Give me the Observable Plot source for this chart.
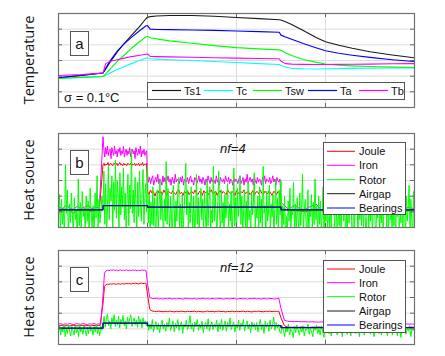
<!DOCTYPE html>
<html><head><meta charset="utf-8">
<script src="https://cdn.jsdelivr.net/npm/d3@7"></script>
<script src="https://cdn.jsdelivr.net/npm/@observablehq/plot@0.6"></script>
<style>
body{margin:0;background:#fff;}
#wrap{position:relative;width:445px;height:356px;overflow:hidden;font-family:"Liberation Sans",Arial,sans-serif;}
#wrap > svg{position:absolute;left:0;}
</style></head><body><div id="wrap"></div>
<script>
// ---------- axes ----------
const xTicks = [1, 2, 3];
const yTicks = [1, 2, 3, 4, 5];
const phases = [0, 0.5, 1.0, 2.5, 4.0];   // load-change instants (time units)

// ---------- panel a : temperatures ----------
const tA = [0, 0.25, 0.5, 0.53, 0.58, 0.66, 0.74, 0.82, 0.9, 0.98, 1.0, 1.03, 1.1, 1.25, 1.5, 1.75, 2.0, 2.25, 2.48, 2.5, 2.55, 2.62, 2.75, 2.9, 3.0, 3.15, 3.3, 3.5, 3.75, 4.0];
const tempNames = ["Ts1", "Tc", "Tsw", "Ta", "Tb"];
const tempColors = ["#1a1a1a", "#00ffff", "#00ff00", "#0000ff", "#ff00ff"];
const Ts1 = [1.9, 2.05, 2.2, 2.45, 2.9, 3.55, 4.1, 4.6, 5.1, 5.65, 5.76, 5.8, 5.84, 5.87, 5.87, 5.82, 5.74, 5.67, 5.6, 5.58, 5.48, 5.3, 4.92, 4.45, 4.2, 3.97, 3.78, 3.56, 3.35, 3.17];
const Tc  = [1.87, 1.92, 1.98, 2.06, 2.2, 2.42, 2.62, 2.8, 2.98, 3.14, 3.17, 3.11, 3.09, 3.05, 3.0, 2.94, 2.87, 2.8, 2.74, 2.68, 2.58, 2.5, 2.47, 2.46, 2.47, 2.48, 2.5, 2.51, 2.52, 2.53];
const Tsw = [1.85, 1.92, 1.98, 2.15, 2.45, 2.95, 3.35, 3.78, 4.15, 4.5, 4.55, 4.45, 4.38, 4.25, 4.1, 3.95, 3.82, 3.74, 3.68, 3.65, 3.5, 3.32, 3.06, 2.88, 2.78, 2.7, 2.66, 2.62, 2.58, 2.55];
const Ta  = [1.9, 2.04, 2.2, 2.5, 2.98, 3.6, 4.08, 4.48, 4.85, 5.2, 5.23, 5.0, 4.98, 4.97, 4.95, 4.92, 4.88, 4.84, 4.8, 4.62, 4.5, 4.35, 4.08, 3.8, 3.62, 3.46, 3.34, 3.2, 3.05, 2.93];
const Tb  = [2.04, 2.1, 2.2, 2.8, 2.95, 3.05, 3.15, 3.25, 3.32, 3.4, 3.42, 3.26, 3.25, 3.23, 3.21, 3.18, 3.15, 3.13, 3.11, 2.95, 2.8, 2.77, 2.75, 2.74, 2.74, 2.75, 2.76, 2.77, 2.79, 2.8];

// ---------- heat sources : one sub-array per load phase ----------
const srcNames = ["Joule", "Iron", "Rotor", "Airgap", "Bearings"];
const srcColors = ["#ff0000", "#ff00ff", "#00ff00", "#1a1a1a", "#0000ff"];

// panel b (nf = 4)
const jouleB = [
  [1.1, 1.0, 1.2, 1.1, 0.9, 1.15, 1.05, 1.2, 1.1, 1.0, 1.15, 1.1],
  [4.0, 4.1, 3.95, 4.05, 4.0, 4.15, 3.95, 4.05, 4.1, 4.0, 3.95, 4.1, 4.05, 4.0, 4.1, 3.95, 4.05, 4.15, 4.0, 4.05, 3.95, 4.1, 4.0, 4.05, 3.95, 4.1, 4.05, 4.0, 4.1, 3.95, 4.05, 4.0, 4.1, 3.95, 4.05, 4.0, 4.1, 3.95, 4.05, 4.0, 4.15, 3.95, 4.05, 4.0, 4.1],
  [2.3, 2.1, 2.4, 2.2, 2.3, 2.0, 2.25, 2.35, 2.15, 2.3, 2.1, 2.4, 2.2, 2.05, 2.3, 2.25, 2.15, 2.35, 2.2, 2.1, 2.3, 2.4, 2.15, 2.25, 2.05, 2.3, 2.2, 2.35, 2.1, 2.25, 2.3, 2.15, 2.4, 2.2, 2.1, 2.3, 2.25, 2.05, 2.35, 2.2, 2.3, 2.1, 2.25, 2.4, 2.15, 2.2, 2.3, 2.05, 2.25, 2.35, 2.15, 2.3, 2.2, 2.1, 2.4, 2.25, 2.15, 2.3, 2.2, 2.05, 2.35, 2.25, 2.1, 2.3, 2.2, 2.4, 2.15, 2.25, 2.3, 2.1, 2.2, 2.35, 2.05, 2.25, 2.3, 2.15, 2.4, 2.2, 2.1, 2.3, 2.25, 2.15, 2.35, 2.2, 2.05, 2.3, 2.25, 2.1, 2.3, 2.2],
  [1.2, 1.1, 1.0, 1.15, 1.1, 0.95, 1.1, 1.2, 1.05, 1.1, 1.0, 1.15]
];
const ironB = [
  [1.3, 1.2, 1.4, 1.25, 1.15, 1.35, 1.2, 1.3, 1.4, 1.2, 1.3, 1.25],
  [5.8, 5.0, 4.5, 5.1, 4.7, 5.2, 4.6, 4.9, 5.0, 4.4, 5.1, 4.8, 4.6, 5.2, 4.7, 4.9, 4.5, 5.0, 4.8, 5.1, 4.6, 4.9, 4.7, 5.2, 4.5, 4.8, 5.0, 4.6, 4.9, 4.7, 5.1, 4.5, 4.8, 5.0, 4.7, 4.9, 4.4, 5.1, 4.8, 4.6, 5.0, 4.7, 5.2, 4.5, 4.9, 4.7, 5.0, 4.6, 4.8, 4.9],
  [3.4, 2.9, 3.2, 2.8, 3.1, 3.3, 2.7, 3.0, 3.2, 2.9, 3.4, 2.8, 3.1, 3.0, 2.7, 3.3, 2.9, 3.2, 2.8, 3.0,
   3.3, 2.9, 3.1, 2.7, 3.2, 3.0, 2.8, 3.4, 2.9, 3.1, 3.0, 2.8, 3.2, 2.9, 3.3, 2.7, 3.1, 3.0, 2.9, 3.2,
   2.8, 3.1, 3.3, 2.9, 3.0, 2.7, 3.2, 3.1, 2.8, 3.0, 3.3, 2.9, 3.1, 2.8, 3.2, 3.0, 2.7, 3.1, 2.9, 3.3,
   3.0, 2.8, 3.2, 2.9, 3.1, 3.0, 2.8, 3.3, 2.9, 3.1, 2.7, 3.2, 3.0, 2.9, 3.1, 2.8, 3.3, 3.0, 2.9, 3.2,
   2.8, 3.1, 3.0, 2.7, 3.2, 2.9, 3.1, 3.0, 2.8, 3.1, 3.3, 2.8, 3.0, 3.2, 2.7, 3.1, 2.9, 3.4, 2.8, 3.0,
   3.2, 2.9, 3.1, 2.7, 3.3, 3.0, 2.8, 3.2, 2.9, 3.1, 3.0, 2.7, 3.2, 2.9, 3.3, 2.8, 3.1, 3.0, 2.9, 3.2,
   2.8, 3.0, 3.3, 2.9, 3.1, 2.7, 3.2, 3.0, 2.9, 3.1],
  [1.6, 1.2, 1.4, 1.1, 1.3, 1.5, 1.0, 1.3, 1.2, 1.4, 1.1, 1.3, 1.2, 1.5, 1.1, 1.2, 1.4, 1.0, 1.3, 1.2]
];
const rotorB = [
  [0.6, 2.1, -0.4, 1.8, 0.2, 1.3, -0.7, 4.0, 0.9, 2.4, -0.6, 1.5, 0.3, 2.2, 0.8, -0.3, 1.9, 0.5, 1.1, -0.8, 3.1, 0.1, 1.6, -0.5, 2.3, 0.7, 1.2, -0.2, 2.0, 0.4, 1.7, -0.7, 2.5, 1.0, 0.0, 1.4, -0.4, 2.2, 0.6, 3.3, -0.1, 1.8, 0.3, 1.1, 2.0],
  [1.4, 3.6, 0.2, 2.8, -0.4, 1.0, 3.9, 0.5, 2.5, 1.7, 3.3, -0.2, 2.9, 1.1, 4.3, 0.6, 3.0, 1.9, 0.0, 3.5, 0.8, 2.6, 1.3, 3.8, 0.5, 2.2, -0.3, 1.6, 3.4, 0.1, 2.7, 1.2, 5.0, 0.9, 2.4, 0.3, 3.2, 1.5, -0.1, 2.9, 0.7, 3.6, 1.8, 0.4, 2.3, 3.7, 0.2, 1.9, 2.8, 1.0],
  [3.9, 0.3, 2.1, -0.5, 1.6, 0.2, 2.6, 0.1, 1.9, -0.7, 0.7, 2.4, -0.4, 1.4, 3.0,
   0.5, 2.2, 0.9, -0.6, 1.8, 0.4, 4.2, 0.2, 2.5, 1.1, -0.2, 2.0, 0.6, -0.8, 2.7,
   1.3, -0.7, 1.7, 0.4, 2.3, 3.2, 0.0, 1.5, -0.3, 2.1, -0.3, 1.0, 2.2, 4.1, 0.8,
   2.4, -0.5, 1.6, 0.3, 2.6, 1.2, -0.1, 2.0, -0.6, 0.7, 3.4, 0.2, 1.9, -0.6, 1.4,
   2.5, 0.5, 1.8, -0.2, 2.2, 0.9, -0.7, 3.0, 0.1, 1.7, 2.6, -0.4, 1.1, 0.3, 3.9,
   0.4, 2.3, 0.8, -0.3, 1.5, 3.6, 1.0, -0.5, 2.4, 0.3, 1.6, -0.5, 2.1, 0.6, 1.3,
   2.8, -0.2, 1.5, 0.4, 2.3, -0.8, 1.0, 3.8, 0.1, 1.9, -0.4, 2.5, 0.7, 1.4, 3.3,
   0.2, 2.0, -0.6, 1.2, 2.4, 0.0, 1.7, -0.3, 2.9, 0.5, 1.1, -0.7, 2.2, 0.8, 1.6,
   3.5, -0.1, 1.3, 0.6, 2.0, -0.5, 2.6, 0.3, 1.8, -0.2, 3.9, 0.9, 1.4, -0.6, 2.3,
   0.4, 1.0, 2.7, -0.4, 1.5, 0.7, 2.1, -0.8, 1.2, 3.1, 0.2, 1.9, -0.3, 2.4, 0.8],
  [3.0, -0.5, 1.4, 0.2, 2.0, -0.8, 0.7, -0.6, 1.7, 0.4, 2.5, -0.2, 1.2, 0.8, 2.9,
   0.0, 1.5, -0.7, 1.9, 0.6, -0.4, 2.2, 0.1, 1.3, 3.4, -0.3, 1.0, 1.8, 0.3, -0.8,
   2.4, -0.4, 1.1, 0.7, 2.1, -0.1, 1.6, 0.2, 3.1, 0.5, 1.4, -0.6, 2.0, 0.2, 1.7,
   -0.5, 0.9, 2.6, -0.5, 1.2, 0.4, 1.9, -0.7, 3.3, 0.0, 1.5, -0.2, 2.3, 0.8, 1.1,
   -0.4, 2.8, 0.6, -0.8, 1.6, 0.1, 2.1, -0.3, 1.3, 3.5, 0.4, 1.8, -0.6, 0.9, -0.5,
   2.4, 0.3, 1.4, 2.7, 0.0, -0.7, 1.7, -0.2, 2.2, 0.8, 1.2, -0.6, 2.6, 0.5, 1.5,
   0.1, 3.0, -0.3, 1.9, 0.7, -0.8, 1.1, 2.3, -0.1, 1.6, 0.4, 2.0, -0.5, 1.3, 2.5,
   0.2, -0.4, 1.8, 0.6, 2.9, -0.2, 1.0, 0.3, 2.2, -0.7, 1.4, 0.8, 3.2, 0.0, 1.7,
   -0.5, 2.1, 0.5, 1.2, -0.3, 2.6, 0.1, 1.5, -0.8, 1.9, 0.7, 2.4, -0.4, 1.0, 0.3,
   3.3, -0.1, 1.6, 0.9, -0.6, 2.0, 0.4, 1.3, 2.7, -0.2, 1.8, 0.6, -0.7, 2.3, 1.1]
];
const airgapB = [1.13, 1.40, 1.30, 1.13];
const bearingsB = [1.13, 1.40, 1.30, 1.13];

// panel c (nf = 12)
const jouleC = [
  [1.2, 1.22, 1.18, 1.21, 1.19, 1.23, 1.2, 1.18, 1.22, 1.2, 1.21, 1.19, 1.22, 1.2, 1.21],
  [2.6, 3.7, 3.82, 3.85, 3.84, 3.87, 3.85, 3.88, 3.86, 3.84, 3.88, 3.87, 3.85, 3.89, 3.86, 3.88, 3.9, 3.87, 3.89, 3.86, 3.9, 3.88, 3.91, 3.89, 3.87, 3.9, 3.92, 3.89, 3.91, 3.9],
  [3.2, 2.25, 2.14, 2.12, 2.1, 2.13, 2.11, 2.09, 2.12, 2.1, 2.13, 2.11, 2.08, 2.12, 2.1, 2.13, 2.11, 2.09, 2.12, 2.1, 2.11, 2.13, 2.09, 2.12, 2.1, 2.08, 2.11, 2.13, 2.1, 2.12, 2.09, 2.11, 2.13, 2.1, 2.12, 2.08, 2.11, 2.1, 2.13, 2.09, 2.12, 2.1, 2.11, 2.13, 2.09, 2.12, 2.1, 2.08, 2.12, 2.11, 2.13, 2.1, 2.09, 2.12, 2.11, 2.13, 2.1, 2.12, 2.11, 2.13],
  [1.7, 1.2, 1.12, 1.1, 1.11, 1.09, 1.12, 1.1, 1.08, 1.11, 1.1, 1.12, 1.09, 1.1, 1.11, 1.08, 1.1, 1.12, 1.09, 1.11, 1.1, 1.08, 1.11, 1.1, 1.12, 1.09, 1.1, 1.11, 1.08, 1.1, 1.12, 1.09, 1.11, 1.1, 1.08, 1.11, 1.1, 1.09, 1.11, 1.1]
];
const ironC = [
  [1.3, 1.33, 1.28, 1.32, 1.29, 1.34, 1.3, 1.27, 1.33, 1.31, 1.29, 1.34, 1.3, 1.28, 1.32, 1.3, 1.33, 1.29, 1.31, 1.3],
  [3.1, 4.55, 4.7, 4.74, 4.72, 4.76, 4.73, 4.77, 4.72, 4.75, 4.7, 4.74, 4.76, 4.72, 4.75, 4.73, 4.77, 4.71, 4.74, 4.72, 4.76, 4.73, 4.75, 4.7, 4.74, 4.72, 4.76, 4.73, 4.75, 4.72],
  [3.9, 3.0, 2.94, 2.92, 2.95, 2.91, 2.93, 2.9, 2.94, 2.92, 2.95, 2.9, 2.93, 2.91, 2.94, 2.92, 2.9, 2.95, 2.92, 2.93, 2.91, 2.94, 2.9, 2.93, 2.92, 2.95, 2.91, 2.93, 2.9, 2.94, 2.92, 2.91, 2.95, 2.93, 2.9, 2.92, 2.94, 2.91, 2.93, 2.95, 2.9, 2.92, 2.94, 2.91, 2.93, 2.9, 2.94, 2.92, 2.95, 2.91, 2.93, 2.9, 2.94, 2.92, 2.91, 2.95, 2.93, 2.9, 2.92, 2.96],
  [2.3, 1.55, 1.48, 1.47, 1.46, 1.47, 1.45, 1.46, 1.44, 1.45, 1.44, 1.43, 1.44, 1.42, 1.43, 1.41, 1.42, 1.4, 1.41, 1.39, 1.4, 1.38, 1.39, 1.37, 1.38, 1.36, 1.37, 1.35, 1.36, 1.34, 1.35, 1.33, 1.34, 1.32, 1.33, 1.31, 1.32, 1.3, 1.31, 1.3]
];
const rotorC = [
  [0.9, 1.2, 0.6, 1.1, 0.8, 1.3, 0.5, 1.0, 0.7, 1.25, 0.85, 0.55, 1.15, 0.9, 0.6, 1.2, 0.75, 1.05, 0.5, 1.3, 0.8, 1.0, 0.65, 1.2, 0.9, 0.55, 1.1, 0.7, 1.25, 0.85, 1.0, 0.6, 1.15, 0.8, 1.3, 0.7, 1.05, 0.55, 1.2, 0.9],
  [1.3, 1.8, 1.1, 1.6, 1.95, 1.2, 1.5, 1.0, 1.7, 1.35, 1.9, 1.15, 1.55, 1.25, 1.8, 1.05, 1.6, 1.4, 1.85, 1.2, 1.5, 1.0, 1.75, 1.3, 1.65, 1.9, 1.15, 1.45, 1.7, 1.25, 1.55, 1.1, 1.8, 1.35, 1.6, 1.05, 1.7, 1.3, 1.5, 1.2],
  [1.5, 0.9, 1.3, 1.0, 1.6, 0.8, 1.2, 1.45, 0.95, 1.35, 0.75, 1.25, 1.55, 1.0, 1.3, 0.85, 1.4, 1.1, 1.7, 0.9, 1.2, 1.5, 0.8, 1.35, 1.05, 1.6, 0.9, 1.25, 1.45, 0.7, 1.3, 1.1, 1.55, 0.95, 1.2, 1.85, 1.0, 1.35, 0.8, 1.45, 1.15, 1.6, 0.9, 1.3, 1.05, 1.5, 0.75, 1.25, 1.4, 1.0, 1.65, 0.85, 1.2, 1.45, 0.95, 1.3, 1.1, 1.55, 0.8, 1.35, 1.0, 1.6, 0.9, 1.25, 1.5, 0.85, 1.4, 1.1, 1.7, 0.95, 1.2, 1.45, 0.8, 1.3, 1.05, 1.55, 0.9, 1.35, 1.15, 1.6, 0.85, 1.25, 1.5, 1.0, 1.3, 0.75, 1.45, 1.1, 1.35, 0.95,
   1.4, 0.8, 1.25, 1.6, 0.95, 1.3, 0.7, 1.5, 1.1, 1.35, 0.85, 1.55, 1.0, 1.2, 1.75, 0.9, 1.4, 1.05, 1.3, 0.8],
  [0.7, 1.2, 0.9, 0.5, 1.1, 0.8, 1.3, 0.6, 1.0, 0.85, 0.45, 1.15, 0.75, 1.25, 0.95, 0.6, 1.1, 0.8, 1.2, 0.55, 1.0, 0.9, 1.3, 0.65, 1.05, 0.8, 0.5, 1.15, 0.9, 1.25, 0.7, 1.0, 0.6, 1.2, 0.85, 0.45, 1.1, 0.95, 1.3, 0.7, 1.0, 0.55, 1.15, 0.8, 1.25, 0.9, 0.6, 1.05, 0.75, 1.2, 0.5, 1.0, 0.85, 1.3, 0.65, 1.1, 0.9, 0.55, 1.2, 0.8, 1.0, 0.7, 1.25, 0.95, 0.5, 1.15, 0.85, 1.05, 0.6, 1.2, 0.9, 0.75, 1.3, 0.65, 1.0, 0.85, 0.5, 1.1, 0.95, 1.2, 0.7, 1.05, 0.6, 1.15, 0.8, 1.25, 0.9, 0.55, 1.1, 0.85,
   1.2, 0.6, 1.0, 0.8, 1.3, 0.55, 1.1, 0.9, 0.45, 1.15, 0.75, 1.25, 0.65, 1.05, 0.85, 1.2, 0.5, 1.0, 0.9, 1.1]
];
const airgapC = [1.04, 1.36, 1.21, 1.08];
const bearingsC = [1.04, 1.36, 1.21, 1.08];

// ---------- text ----------
const yLabels = ["Temperature", "Heat source", "Heat source"];
const panelLetters = ["a", "b", "c"];
const sigmaNote = "\u03c3 = 0.1°C";
const nfNotes = ["nf=4", "nf=12"];

// ---------- helpers ----------
function phaseSeries(segs) {
  const out = [];
  segs.forEach((vals, k) => {
    const t0 = phases[k], t1 = phases[k + 1], last = k === segs.length - 1, n = vals.length;
    vals.forEach((v, j) => out.push({t: t0 + (t1 - t0) * j / (last ? n - 1 : n), v}));
  });
  return out;
}
function stepLevels(levels) {
  return phases.map((t, k) => ({t, v: levels[Math.min(k, levels.length - 1)]}));
}
const W = 445, ML = 58, MR = 31, MT = 13, MB = 3, H = 110;
const FW = W - ML - MR, FH = H - MT - MB;
function chrome() {
  return [
    Plot.ruleX(xTicks, {x: d => d, stroke: "#dcdcdc", strokeWidth: 1}),
    Plot.ruleY(yTicks, {y: d => d, stroke: "#dcdcdc", strokeWidth: 1})
  ];
}
function edges() {
  return [
    Plot.tickY(yTicks, {y: d => d, insetRight: FW - 4, stroke: "#666"}),
    Plot.tickY(yTicks, {y: d => d, insetLeft: FW - 4, stroke: "#666"}),
    Plot.tickX(xTicks, {x: d => d, insetBottom: FH - 4, stroke: "#666"}),
    Plot.tickX(xTicks, {x: d => d, insetTop: FH - 4, stroke: "#666"}),
    Plot.frame({stroke: "#707070", strokeWidth: 1.2})
  ];
}
function makePlot(lineMarks) {
  return Plot.plot({
    width: W, height: H, marginLeft: ML, marginRight: MR, marginTop: MT, marginBottom: MB,
    x: {domain: [0, 4], axis: null},
    y: {domain: [0, 6], axis: null},
    marks: [...chrome(), ...lineMarks, ...edges()]
  });
}

const wrap = document.getElementById("wrap");
// panel a
const tempSeries = [Ts1, Tc, Tsw, Ta, Tb];
const plotA = makePlot(tempSeries.map((vals, i) =>
  Plot.line(tA.map((t, j) => ({t, v: vals[j]})), {x: "t", y: "v", stroke: tempColors[i], strokeWidth: 1.1, clip: true})));
plotA.style.top = "0px";
wrap.appendChild(plotA);

function sourcePlot(joule, iron, rotor, airgap, bearings) {
  return makePlot([
    Plot.line(phaseSeries(joule), {x: "t", y: "v", stroke: srcColors[0], strokeWidth: 1, clip: true}),
    Plot.line(phaseSeries(iron), {x: "t", y: "v", stroke: srcColors[1], strokeWidth: 1, clip: true}),
    Plot.line(phaseSeries(rotor), {x: "t", y: "v", stroke: srcColors[2], strokeWidth: 1, clip: true}),
    Plot.line(stepLevels(airgap), {x: "t", y: "v", stroke: srcColors[3], strokeWidth: 1.3, curve: "step-after", clip: true}),
    Plot.line(stepLevels(bearings), {x: "t", y: "v", stroke: srcColors[4], strokeWidth: 1, strokeOpacity: 0.85, curve: "step-after", clip: true})
  ]);
}
const plotB = sourcePlot(jouleB, ironB, rotorB, airgapB, bearingsB);
plotB.style.top = "120px";
wrap.appendChild(plotB);
const plotC = sourcePlot(jouleC, ironC, rotorC, airgapC, bearingsC);
plotC.style.top = "237px";
wrap.appendChild(plotC);

// ---------- overlay: labels, panel letters, legends ----------
const ov = d3.select(wrap).append("svg").attr("width", W).attr("height", 356).style("top", "0px")
  .attr("font-family", "'Liberation Sans', Arial, sans-serif");
const panelCenters = [60, 180, 297];
yLabels.forEach((txt, i) => ov.append("text")
  .attr("transform", `translate(34,${panelCenters[i]}) rotate(-90)`)
  .attr("text-anchor", "middle").attr("font-family", "'Open Sans', sans-serif")
  .attr("font-size", 14.5).attr("fill", "#111").text(txt));

const letterBoxTops = [31, 150, 267];
panelLetters.forEach((L, i) => {
  ov.append("rect").attr("x", 70.5).attr("y", letterBoxTops[i] + 0.5).attr("width", 18).attr("height", 24)
    .attr("fill", "#fff").attr("stroke", "#555");
  ov.append("text").attr("x", 79.5).attr("y", letterBoxTops[i] + 17.5).attr("text-anchor", "middle")
    .attr("font-size", 15).attr("fill", "#111").text(L);
});
ov.append("text").attr("x", 64).attr("y", 102).attr("font-size", 13).attr("fill", "#111").text(sigmaNote);
const nfBase = [153, 272];
nfNotes.forEach((s, i) => ov.append("text").attr("x", 220).attr("y", nfBase[i])
  .attr("font-size", 13).attr("font-style", "italic").attr("fill", "#111").text(s));

// legend a (horizontal)
ov.append("rect").attr("x", 147.5).attr("y", 82.5).attr("width", 257).attr("height", 17)
  .attr("fill", "#fff").attr("stroke", "#555");
const legAx = [152, 204, 253, 308, 359];
tempNames.forEach((n, i) => {
  ov.append("line").attr("x1", legAx[i]).attr("x2", legAx[i] + 29).attr("y1", 90.5).attr("y2", 90.5)
    .attr("stroke", tempColors[i]).attr("stroke-width", 1.2);
  ov.append("text").attr("x", legAx[i] + 32).attr("y", 94.5).attr("font-size", 11).attr("fill", "#111").text(n);
});
// legends b, c (vertical)
[[142, [151.3, 165.3, 179.7, 193.7, 208]], [260, [269, 282.7, 296.7, 311, 325]]].forEach(([top, rows]) => {
  ov.append("rect").attr("x", 323.5).attr("y", top + 0.5).attr("width", 82).attr("height", 72)
    .attr("fill", "#fff").attr("stroke", "#555");
  srcNames.forEach((n, i) => {
    ov.append("line").attr("x1", 327).attr("x2", 355).attr("y1", rows[i]).attr("y2", rows[i])
      .attr("stroke", srcColors[i]).attr("stroke-width", 1);
    ov.append("text").attr("x", 359).attr("y", rows[i] + 4).attr("font-size", 11).attr("fill", "#111").text(n);
  });
});
</script></body></html>
